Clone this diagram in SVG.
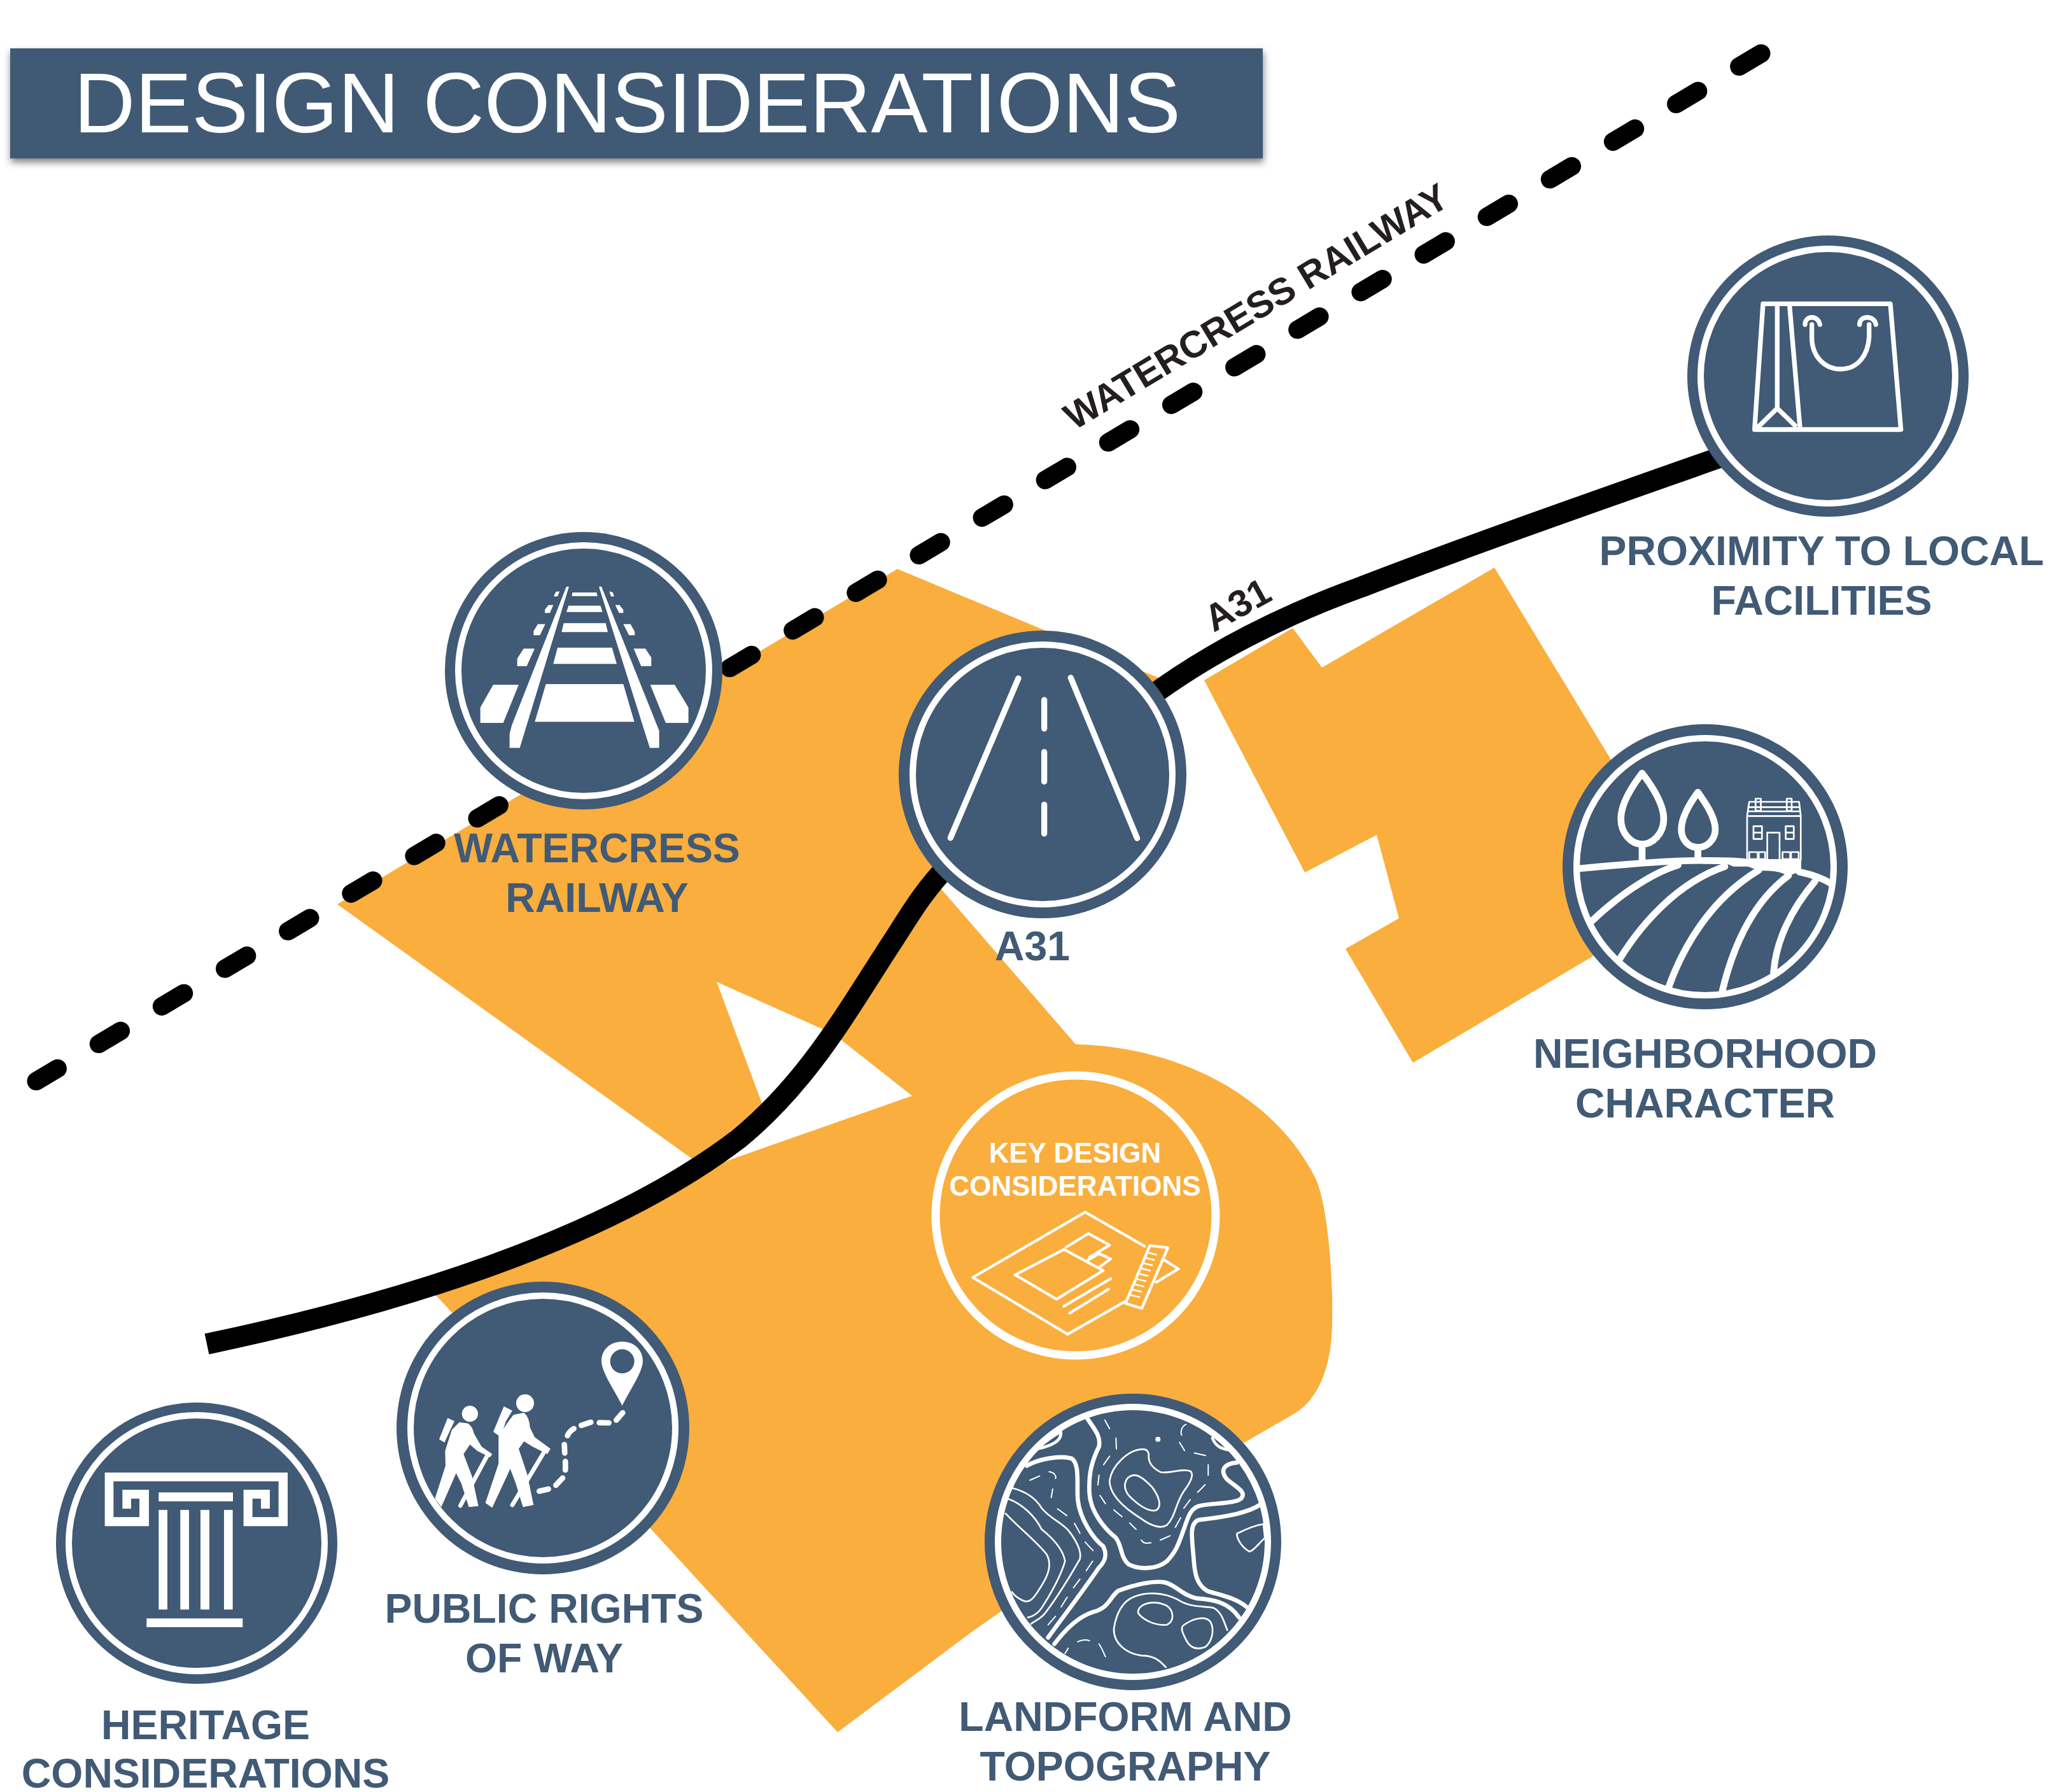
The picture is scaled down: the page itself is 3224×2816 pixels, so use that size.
<svg xmlns="http://www.w3.org/2000/svg" width="3224" height="2816" viewBox="0 0 3224 2816">
<defs>
<style>
.site{fill:#f9ae3d}
.disc{fill:#415a75}
.ring{fill:none;stroke:#fff;stroke-width:10}
.w{fill:#fff}
.ws{fill:none;stroke:#fff;stroke-linecap:round;stroke-linejoin:round}
.lab{font-family:"Liberation Sans",Arial,sans-serif;font-weight:700;font-size:64.4px;fill:#415a75;text-anchor:middle}
.map{font-family:"Liberation Sans",Arial,sans-serif;font-weight:700;font-size:59px;fill:#231f20;text-anchor:middle}
.key{font-family:"Liberation Sans",Arial,sans-serif;font-weight:700;font-size:44px;fill:#fff;text-anchor:middle}
</style>
<filter id="sh" x="-2%" y="-10%" width="104%" height="130%"><feDropShadow dx="1" dy="6" stdDeviation="6" flood-color="#000" flood-opacity=".5"/></filter>
<clipPath id="topoclip"><circle cx="750" cy="699" r="636"/></clipPath>
</defs>
<rect width="3224" height="2816" fill="#fff"/>
<g id="title">
<rect x="16" y="76" width="1968" height="173" fill="#415a75" filter="url(#sh)"/>
<text x="116" y="208" font-family="'Liberation Sans',Arial,sans-serif" font-size="133.4" fill="#fff">DESIGN CONSIDERATIONS</text>
</g>
<g id="site">
<path class="site" d="M530,1421 L1410,894 L1820,1065 L1477,1395 L1690,1641 C1850,1645 2000,1720 2066,1850 C2085,1887 2095,2000 2093,2077 C2093,2140 2075,2195 2036,2220 L1953,2268 L1530,2562 L1316,2722 L1023,2403 L680,2030 L1100,1830 Z"/>
<path class="site" d="M1892,1069 L2031,987 L2077,1049 L2348,892 L2530,1192 L2600,1400 L2502,1503 L2220,1670 L2114,1491 L2198,1443 L2163,1312 L2050,1371 Z"/>
<path fill="#fff" d="M1126,1543 L1310,1625 L1433,1722 L1120,1832 L1205,1755 Z"/>
</g>
<g id="connectors" fill="none" stroke="#000">
<path id="railway" stroke-width="29" stroke-linecap="round" stroke-dasharray="40 75.4" d="M2767,84 L57,1699"/>
<path id="a31-west" stroke-width="33" d="M325,2112 C620,2050 950,1950 1160,1790 C1270,1700 1330,1590 1402,1480 C1425,1445 1450,1400 1490,1360"/>
<path id="a31-east" stroke-width="33" d="M1800,1100 C1900,1025 2020,965 2140,922 C2300,860 2500,790 2710,716"/>
</g>
<text class="map" transform="translate(1984,499) rotate(-31)">WATERCRESS RAILWAY</text>
<text class="map" transform="translate(1954,968) rotate(-29)">A31</text>

<g id="node-watercress">
<circle class="disc" cx="917" cy="1054" r="218"/><circle class="ring" cx="917" cy="1054" r="197"/>
<g class="w" transform="translate(660,800) scale(.3333)">
<path d="M718,393H832L836,410H716ZM700,455H850L860,485H690ZM677,538H875L885,580H667ZM648,653H905L927,730H628ZM593,825H958L1010,1003H541Z"/>
<path d="M640,390L658,388L648,412H630ZM605,452H628L612,490H588V475ZM555,542H590L565,595H535V575ZM488,658H540L503,740H458V705ZM345,828H465L392,1008H284V935Z"/>
<path d="M892,388L908,392L915,412H900ZM920,452H940L958,475V490H938ZM958,542H992L1012,578V595H985ZM1007,658H1062L1090,700V740H1042ZM1085,828H1200L1265,935V1008H1158Z"/>
<path d="M690,365H702L470,1126H422V1060L432,1020ZM843,365H855L1127,1045V1126H1083Z"/>
</g>
<text class="lab" x="938" y="1355">WATERCRESS</text><text class="lab" x="938" y="1433">RAILWAY</text>
</g>

<g id="node-a31">
<circle class="disc" cx="1638" cy="1217" r="226"/><circle class="ring" cx="1638" cy="1217" r="204"/>
<g class="ws" stroke-width="28" transform="translate(1400,980) scale(.3333)">
<path d="M600,258L280,1010M847,255L1160,1012M722,360V495M722,605V745M722,853V990"/>
</g>
<text class="lab" x="1622" y="1509">A31</text>
</g>

<g id="node-proximity">
<circle class="disc" cx="2872" cy="591" r="221"/><circle class="ring" cx="2872" cy="591" r="200"/>
<g class="ws" stroke-width="22" transform="translate(2620,340) scale(.3333)">
<path d="M450,412H1050L1100,1005H410ZM517,420V905M575,420L625,1005M517,905L425,995M517,905L600,985"/>
<path d="M680,510V570C680,660 740,720 815,720C900,720 945,650 950,570V510M648,510C648,465 710,465 718,510M905,510C905,465 975,465 982,510"/>
</g>
<text class="lab" x="2862" y="888">PROXIMITY TO LOCAL</text><text class="lab" x="2862" y="966">FACILITIES</text>
</g>

<g id="node-neighborhood">
<circle class="disc" cx="2679" cy="1362" r="224"/><circle class="ring" cx="2679" cy="1362" r="202"/>
<g transform="translate(2430,1120) scale(.3333)">
<g class="ws" stroke-width="32">
<path d="M450,285C400,350 350,430 350,500C350,570 400,620 450,620C500,620 552,570 552,500C552,430 500,350 450,285ZM450,620V690M713,375C680,420 635,490 635,550C635,600 670,635 713,635C755,635 795,600 795,550C795,490 745,420 713,375ZM713,635V690"/>
<path d="M150,735C400,712 600,695 750,697C850,697 950,697 1000,720"/>
<path d="M1190,750C1260,765 1300,780 1340,805"/>
<path d="M210,985C320,880 480,760 620,718M345,1160C450,990 620,800 840,725M575,1295C640,1110 770,880 1000,742M825,1325C870,1130 960,900 1140,768M1070,1225C1080,1080 1150,930 1265,795"/>
</g>
<path class="w" d="M800,690H1200V745L1140,770C1100,745 1050,745 1000,745L950,725H880Z"/>
<g class="ws" stroke-width="8">
<path d="M945,487V695H1198V487ZM945,487L955,420H1190L1198,487M950,445H1192M950,465H1195M985,405H1010V462H985ZM1132,405H1155V462H1132Z"/>
<path d="M975,535H1015V595H975ZM975,565H1015M1127,535H1165V595H1127ZM1127,565H1165M1040,695V565H1098V695"/>
<path d="M955,657H995V690H955ZM1000,657H1030V690H1000ZM1112,657H1148V690H1112ZM1152,657H1188V690H1152Z"/>
</g>
</g>
<text class="lab" x="2679" y="1678">NEIGHBORHOOD</text><text class="lab" x="2679" y="1756">CHARACTER</text>
</g>

<g id="node-key">
<circle cx="1690" cy="1910" r="220" fill="none" stroke="#fff" stroke-width="13"/>
<text class="key" x="1689" y="1827">KEY DESIGN</text><text class="key" x="1689" y="1879">CONSIDERATIONS</text>
<g class="ws" stroke-width="13" transform="translate(1440,1680) scale(.3333)">
<path d="M1075,835L795,675L265,982L712,1250L985,1095M1160,895L1235,942L1130,1005"/>
<path d="M1100,832L1185,842L1062,1128L985,1105Z"/>
<path d="M465,970L695,850L880,950L660,1085ZM705,840L810,775L910,830L815,888M810,900L860,870L915,895L860,935"/>
<path d="M695,1118L915,988M722,1150L905,1038"/>
<path stroke-width="8" d="M1090,865L1130,875M1080,890L1120,900M1070,915L1110,925M1060,940L1100,950M1050,965L1090,975M1040,990L1080,1000M1030,1015L1070,1025M1020,1040L1060,1050M1010,1065L1050,1075"/>
</g>
</g>

<g id="node-public">
<circle class="disc" cx="853" cy="2244" r="230"/><circle class="ring" cx="853" cy="2244" r="208"/>
<g transform="translate(610,2010) scale(.3333)">
<g class="w">
<circle cx="385" cy="635" r="38"/><circle cx="645" cy="585" r="42"/>
<path d="M335,675L375,680Q395,690 405,730L440,790L490,825L480,840L420,810L385,780L355,825L395,930L425,1070L380,1075L345,965L320,915L250,1075L220,1035L270,880L268,810L300,710ZM280,655L312,670L265,770L240,755Z"/>
<path d="M590,640L640,630Q665,650 668,700L690,745L765,800L750,825L680,790L640,765L615,800L655,920L685,1065L635,1075L600,960L575,895L490,1078L458,1055L520,870L520,740L560,680ZM545,600L585,620L555,670L530,745L495,720Z"/>
<path fill-rule="evenodd" d="M1103,295C1040,295 1005,340 1005,385C1005,440 1070,530 1103,597C1135,530 1200,440 1200,385C1200,340 1165,295 1103,295ZM1103,331A57,57 0 1 0 1103,445A57,57 0 1 0 1103,331Z"/>
</g>
<path class="ws" stroke-width="20" stroke-linecap="butt" d="M465,835L340,1068M735,815L585,1065"/>
<path class="ws" stroke-width="26" d="M1105,630L1075,665M1040,678L995,677M955,675L910,690M875,705C860,715 850,725 845,738M830,780L832,820M835,860L835,900M822,938L790,972M755,990L712,1000"/>
</g>
<text class="lab" x="855" y="2550">PUBLIC RIGHTS</text><text class="lab" x="855" y="2628">OF WAY</text>
</g>

<g id="node-heritage">
<circle class="disc" cx="309" cy="2425" r="221"/><circle class="ring" cx="309" cy="2425" r="201"/>
<g class="w" transform="translate(70,2200) scale(.3333)">
<path d="M284,342H1146V595H938V423H1062V512H1020V465H980V552H1103V383H325V552H447V465H408V512H367V423H492V595H284Z"/>
<path d="M538,436H888V478H538ZM538,518H579V988H538ZM640,518H681V988H640ZM735,518H777V988H735ZM846,518H887V988H846ZM481,1030H934V1071H481Z"/>
</g>
<text class="lab" x="323" y="2733">HERITAGE</text><text class="lab" x="323" y="2809">CONSIDERATIONS</text>
</g>

<g id="node-landform">
<circle class="disc" cx="1780" cy="2423" r="233"/><circle class="ring" cx="1780" cy="2423" r="212"/>
<g transform="translate(1530,2190) scale(.3333)">
<g clip-path="url(#topoclip)">
<g class="ws" stroke-width="20">
<path d="M530,110C570,170 600,200 590,250C560,310 540,370 545,470C550,560 620,640 670,680C700,720 690,770 730,805C780,830 860,830 910,790C960,740 970,690 990,640C1010,580 1020,545 1060,530C1120,515 1230,520 1260,495C1290,460 1230,440 1190,400C1160,360 1180,330 1240,325"/>
<path d="M1355,520C1300,560 1200,580 1060,595C1020,610 1025,660 1035,760C1040,850 1050,900 1100,930C1160,950 1230,960 1285,1005"/>
<path d="M250,340C300,310 400,290 460,305C500,330 485,420 490,500C500,590 560,680 610,720C630,760 620,790 590,820C500,950 430,1040 350,1150"/>
<path d="M380,1180C440,1100 500,1050 560,1030C640,1010 640,960 680,930C760,900 850,880 900,890C950,900 980,950 1050,965C1120,970 1200,980 1250,1055"/>
<path stroke-width="14" d="M300,260C340,220 390,190 410,180C415,210 395,240 300,260ZM1125,210C1140,250 1170,260 1200,265"/>
</g>
<g class="ws" stroke-width="8">
<path d="M800,262C730,260 650,340 640,410C640,480 710,540 790,590C830,620 880,640 910,620C950,580 950,520 990,460C1020,420 1040,380 1020,365C980,350 920,380 880,370C840,350 820,320 825,285C820,265 810,262 800,262Z"/>
<path d="M750,385C710,395 700,440 730,480C770,520 820,560 860,550C890,530 870,480 840,440C810,410 780,380 750,385Z"/>
<path d="M180,445C240,460 290,490 320,540C360,590 420,610 450,650C480,690 510,740 500,780C460,850 400,950 340,1030C320,1060 290,1070 270,1085"/>
<path d="M160,495C230,520 290,580 320,640C370,680 420,730 430,790C410,860 360,950 320,1010C300,1040 280,1050 255,1055"/>
<path d="M150,565C210,630 300,700 345,760C370,810 350,860 310,920C280,970 260,990 230,975C210,965 190,950 180,935"/>
<path d="M905,1290C870,1250 840,1235 790,1235C720,1225 660,1180 660,1110C670,1040 700,980 750,960C820,930 900,940 960,970C1020,1010 1080,1000 1130,1010C1170,1030 1180,1080 1195,1115"/>
<path d="M850,985C800,985 770,1010 775,1035C800,1070 860,1095 910,1090C950,1070 940,1020 910,1000C890,990 870,985 850,985Z"/>
<path d="M985,1095C1030,1060 1090,1045 1115,1075C1135,1110 1125,1170 1090,1195C1050,1210 1020,1200 1000,1160C985,1130 975,1110 985,1095Z"/>
<path d="M1240,660C1280,640 1330,620 1365,615L1372,680C1340,710 1320,740 1300,745C1270,730 1240,690 1240,660Z"/>
<path stroke-width="6" d="M618,125L640,165M670,210L672,260M640,295L612,335M590,385L585,430M595,480L620,518M660,548L698,580M735,610L765,640M790,690C800,710 820,705 835,703M880,690L925,670M950,630L975,585M990,540L1020,500M1055,465L1090,430M1105,335V385M1040,280L1092,292M1000,145C975,155 975,190 980,195M970,230L993,268M265,408L310,388M355,368C380,370 390,390 385,400M372,450L365,490M395,543L438,575M475,612L500,658M525,700L562,740M560,790L530,835M500,875L470,915M440,960L412,1005M385,1050L350,1090M490,1170C510,1160 530,1160 545,1165M590,1180C610,1210 615,1230 620,1240M430,1225L445,1200"/>
</g>
<circle class="w" cx="868" cy="215" r="12"/>
</g>
</g>
<text class="lab" x="1768" y="2720">LANDFORM AND</text><text class="lab" x="1768" y="2798">TOPOGRAPHY</text>
</g>
</svg>
